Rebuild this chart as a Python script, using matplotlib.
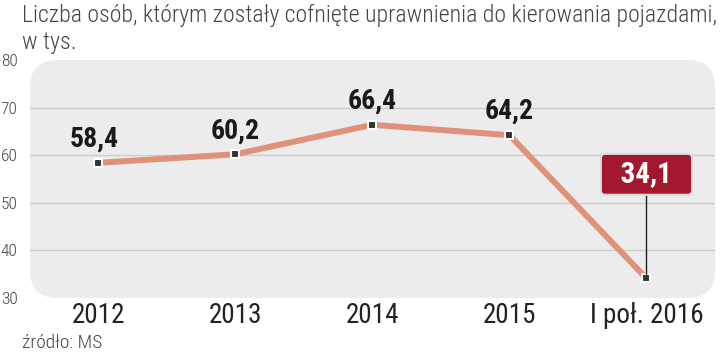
import matplotlib.pyplot as plt
from matplotlib.patches import FancyBboxPatch

years = ["2012", "2013", "2014", "2015", "I poł. 2016"]
values = [58.4, 60.2, 66.4, 64.2, 34.1]
labels = ["58,4", "60,2", "66,4", "64,2", "34,1"]
y_ticks = [30, 40, 50, 60, 70, 80]

COND = ["Roboto Condensed", "DejaVu Sans"]

fig = plt.figure(figsize=(7.2, 3.53), dpi=100)
ax = fig.add_axes([30 / 720, 55 / 353, 685 / 720, 238 / 353])
ax.set_facecolor("none")
ax.set_xlim(-0.5, 4.5)
ax.set_ylim(30, 80)

# rounded grey panel behind the plot
panel = FancyBboxPatch((0, 0), 1, 1, boxstyle="round,pad=0,rounding_size=0.04",
                       transform=ax.transAxes, facecolor="#ececec",
                       edgecolor="none", zorder=0, mutation_aspect=685 / 238)
ax.add_patch(panel)

for y in [40, 50, 60, 70]:
    ax.axhline(y, color="#cdcdcd", lw=1, zorder=1)

x = list(range(len(values)))
ax.plot(x, values, color="#e0917a", lw=4.3, zorder=2, solid_capstyle="butt")
ax.plot(x, values, ls="none", marker="s", ms=5.5, mfc="#333333",
        mec="white", mew=1.5, zorder=4)

for i, (v, t) in enumerate(zip(values[:-1], labels[:-1])):
    ax.annotate(t, (i, v), xytext=(-3 if i == 0 else 0, 17), textcoords="offset points",
                ha="center", va="center", fontsize=20, fontweight="bold",
                family=COND, color="#1a1a1a", zorder=5)

# highlighted last value in a red box
ax.annotate("  " + labels[-1] + "  ", (4, values[-1]), xytext=(0, 75),
            textcoords="offset points",
            ha="center", va="center", fontsize=21, fontweight="bold",
            family=COND, color="white", zorder=5,
            bbox=dict(boxstyle="round,pad=0.22,rounding_size=0.15", fc="#a3182e",
                      ec="#dcdcdc", lw=1.5),
            arrowprops=dict(arrowstyle="-", color="#222222", lw=1,
                            shrinkA=0, shrinkB=3))

for s in ax.spines.values():
    s.set_visible(False)
ax.tick_params(length=0)
ax.set_xticks(x)
ax.set_xticklabels(years, fontsize=19.5, family=COND, fontweight="normal",
                   color="#222222")
ax.tick_params(axis="x", pad=3)
ax.set_yticks(y_ticks)
ax.set_yticklabels([str(t) for t in y_ticks], fontsize=12.5, family=COND,
                   fontweight="light", color="#444444")
ax.tick_params(axis="y", pad=9)

fig.text(22 / 720, 1 - 15 / 353,
         "Liczba osób, którym zostały cofnięte uprawnienia do kierowania pojazdami,",
         fontsize=17.2, family=COND, fontweight="light", color="#444444", va="center")
fig.text(22 / 720, 1 - 42 / 353, "w tys.", fontsize=17.2, family=COND,
         fontweight="light", color="#444444", va="center")
fig.text(22 / 720, 1 - 343 / 353, "źródło: MS", fontsize=14, family=COND,
         fontweight="light", color="#444444", va="center")

fig.savefig("out.png", dpi=100)
